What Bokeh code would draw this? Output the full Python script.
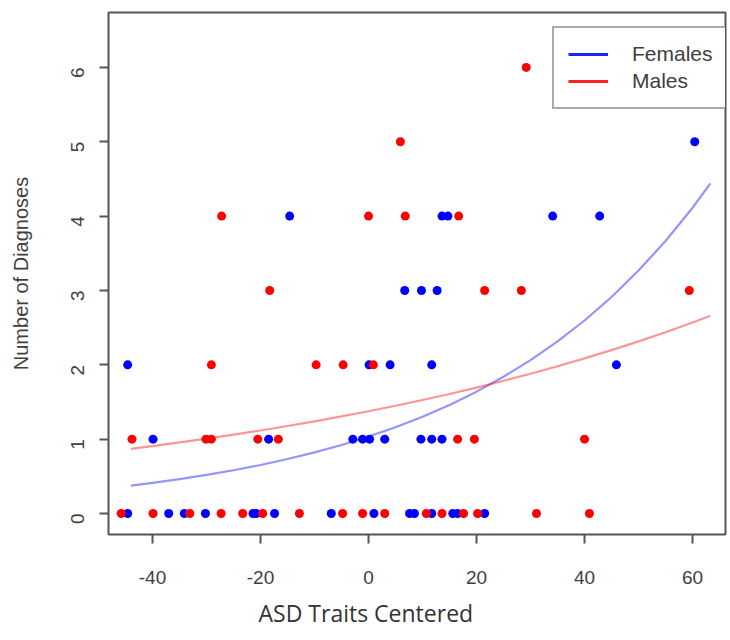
import math
from bokeh.plotting import figure
from bokeh.models import Range1d, FixedTicker, Legend, LegendItem, Title, CustomJSTickFormatter
from bokeh.embed import file_html
from bokeh.resources import INLINE

# ---- data ----
# Females (blue points)
fem_x = [-44.6, -37.0, -34.1, -30.2, -21.4, -20.8, -17.4, -6.9, 1.0, 7.6, 8.5, 11.7, 15.6, 16.5, 21.5,
         -39.9, -18.5, -2.9, -1.1, 0.2, 3.0, 9.7, 11.7, 13.6,
         -44.6, 0.1, 4.0, 11.7, 45.9,
         6.7, 9.8, 12.7,
         -14.6, 13.6, 14.7, 34.1, 42.8,
         60.4]
fem_y = [0, 0, 0, 0, 0, 0, 0, 0, 0, 0, 0, 0, 0, 0, 0,
         1, 1, 1, 1, 1, 1, 1, 1, 1,
         2, 2, 2, 2, 2,
         3, 3, 3,
         4, 4, 4, 4, 4,
         5]

# Males (red points)
male_x = [-45.8, -39.9, -33.1, -27.3, -23.3, -19.6, -12.8, -4.8, -1.1, 3.0, 10.7, 13.6, 17.6, 20.2, 31.1, 40.9,
          -43.8, -30.1, -29.1, -20.5, -16.7, 16.5, 19.6, 40.0,
          -29.1, -9.7, -4.7, 0.9,
          -18.3, 21.5, 28.3, 59.4,
          -27.2, 0.0, 6.8, 16.7,
          5.9,
          29.2]
male_y = [0, 0, 0, 0, 0, 0, 0, 0, 0, 0, 0, 0, 0, 0, 0, 0,
          1, 1, 1, 1, 1, 1, 1, 1,
          2, 2, 2, 2,
          3, 3, 3, 3,
          4, 4, 4, 4,
          5,
          6]

# fitted curves
curve_x = [-44, -40, -35, -30, -25, -20, -15, -10, -5, 0, 5, 10, 15, 20, 25, 30, 35, 40, 45, 50, 55, 60, 63.3]
fem_curve = [0.376, 0.412, 0.463, 0.519, 0.582, 0.653, 0.733, 0.822, 0.922, 1.035, 1.161, 1.302, 1.461,
             1.639, 1.839, 2.063, 2.314, 2.596, 2.912, 3.268, 3.666, 4.112, 4.44]
male_curve = [0.870, 0.907, 0.956, 1.007, 1.061, 1.117, 1.177, 1.240, 1.306, 1.376, 1.449, 1.527, 1.608,
              1.694, 1.785, 1.880, 1.980, 2.086, 2.197, 2.315, 2.439, 2.569, 2.66]

x_ticks = [-40, -20, 0, 20, 40, 60]
y_ticks = [0, 1, 2, 3, 4, 5, 6]
legend_labels = ["Females", "Males"]
x_title = "ASD Traits Centered"
y_title = "Number of Diagnoses"

TXT = "#404040"
FRAME = "#555555"
NAN = float("nan")

p = figure(width=730, height=640,
           x_range=Range1d(-48.15, 66.1), y_range=Range1d(-0.282, 6.738),
           output_backend="svg", toolbar_location=None,
           min_border_left=108, min_border_right=5, min_border_top=12, min_border_bottom=105)

p.background_fill_color = "white"
p.border_fill_color = "white"
p.outline_line_color = FRAME
p.outline_line_width = 2
p.xgrid.visible = False
p.ygrid.visible = False

plain = CustomJSTickFormatter(code="return String(tick);")
for ax in (p.xaxis[0], p.yaxis[0]):
    ax.axis_line_color = None
    ax.major_tick_in = 0
    ax.major_tick_out = 9
    ax.major_tick_line_color = FRAME
    ax.major_tick_line_width = 2
    ax.minor_tick_line_color = None
    ax.major_label_text_font = "Liberation Sans"
    ax.major_label_text_font_size = "19px"
    ax.major_label_text_color = TXT
    ax.formatter = plain

p.xaxis.ticker = FixedTicker(ticks=x_ticks)
p.yaxis.ticker = FixedTicker(ticks=y_ticks)
p.xaxis.major_label_standoff = 27
p.yaxis.major_label_standoff = 22
p.yaxis.major_label_orientation = math.pi / 2

p.yaxis.axis_label = y_title
p.yaxis.axis_label_text_font = "Liberation Sans"
p.yaxis.axis_label_text_font_size = "20px"
p.yaxis.axis_label_text_font_style = "normal"
p.yaxis.axis_label_text_color = TXT
p.yaxis.axis_label_standoff = 30

# curves
p.line(curve_x, fem_curve, line_color="#0000ff", line_alpha=0.42, line_width=2.2)
p.line(curve_x, male_curve, line_color="#ff0000", line_alpha=0.42, line_width=2.2)

# points
p.scatter(fem_x, fem_y, marker="circle", size=9, fill_color="#0000ff", line_color=None)
p.scatter(male_x, male_y, marker="circle", size=9, fill_color="#ff0000", line_color=None)

# legend (full-colour lines, renderers with no visible data)
lf = p.line(x=[NAN], y=[NAN], line_color="#2020ff", line_width=3)
lm = p.line(x=[NAN], y=[NAN], line_color="#ff2020", line_width=3)
legend = Legend(items=[LegendItem(label=legend_labels[0], renderers=[lf]),
                       LegendItem(label=legend_labels[1], renderers=[lm])],
                location=(444, 425),
                padding=14, spacing=3, glyph_width=40, glyph_height=24, label_height=24,
                label_standoff=24,
                label_text_font="Liberation Sans", label_text_font_size="21px", label_text_color=TXT,
                border_line_color=FRAME, border_line_width=2, background_fill_color="white",
                background_fill_alpha=1.0)
p.add_layout(legend, "center")

p.add_layout(Title(text=x_title, align="left", offset=150, standoff=20, vertical_align="top",
                   text_font="Open Sans", text_font_size="23px", text_font_style="normal",
                   text_color="#333333"), "below")

open("out.html", "w").write(file_html(p, INLINE))
